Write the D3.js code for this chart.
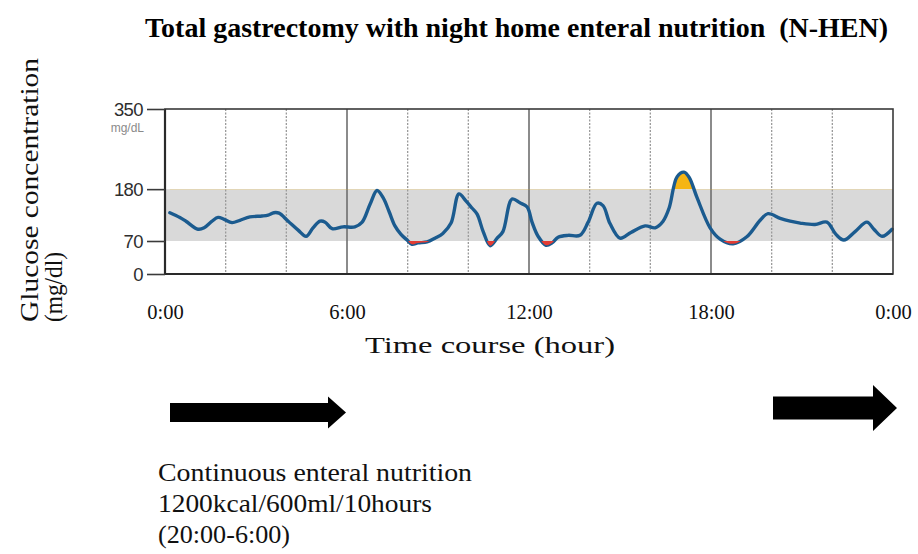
<!DOCTYPE html>
<html>
<head>
<meta charset="utf-8">
<script src="https://cdn.jsdelivr.net/npm/d3@7"></script>
<style>
  html, body { margin: 0; padding: 0; background: #fff; }
  svg { display: block; }
</style>
</head>
<body>
<svg id="chart" width="918" height="554"></svg>
<script>
// ---- data ----
const hours = [0.16,0.49,0.69,1.09,1.29,1.55,1.75,1.95,2.21,2.47,2.80,3.20,3.40,3.59,3.76,4.06,4.39,4.65,4.88,5.11,5.28,5.51,5.87,6.26,6.50,6.76,6.99,7.19,7.39,7.58,7.78,7.98,8.14,8.34,8.64,8.90,9.16,9.43,9.69,9.92,10.12,10.29,10.49,10.72,10.95,11.14,11.44,11.70,11.94,12.10,12.30,12.56,12.76,12.96,13.29,13.68,13.95,14.24,14.44,14.67,15.00,15.36,15.83,16.16,16.42,16.62,16.88,17.11,17.28,17.54,17.97,18.30,18.73,19.18,19.62,19.88,20.28,20.61,20.94,21.43,21.82,22.12,22.38,22.75,23.14,23.37,23.64,23.97];
const glucose = [130,120,112,95,98,112,120,116,109,114,121,123,125,130,129,112,93,80,98,112,110,96,100,100,110,148,177,162,132,102,84,72,63,66,68,76,86,108,170,155,140,127,90,60,76,90,159,151,142,110,80,61,66,78,82,82,110,150,145,107,76,88,102,98,112,140,206,216,205,162,98,74,64,79,114,128,118,112,108,105,110,84,72,90,110,95,80,95];
const yTicks = [0, 70, 180, 350];
const xTicks = [0, 6, 12, 18, 24];
const xTickLabels = ["0:00", "6:00", "12:00", "18:00", "0:00"];
const gridHours = [2, 4, 6, 8, 10, 12, 14, 16, 18, 20, 22];
const majorHours = [6, 12, 18];
const targetRange = [70, 180];
const title = "Total gastrectomy with night home enteral nutrition  (N-HEN)";
const yTitle = ["Glucose concentration", "(mg/dl)"];
const xTitle = "Time course (hour)";
const unitLabel = "mg/dL";
const noteLines = ["Continuous enteral nutrition", "1200kcal/600ml/10hours", "(20:00-6:00)"];

// ---- layout ----
const svg = d3.select("#chart");
const L = 165, R = 893, T = 109, B = 274;
const x = d3.scaleLinear().domain([0, 24]).range([L, R]);
const y = d3.scaleLinear().domain([0, 350]).range([B, T]);
const serif = "Times New Roman, Liberation Serif, Times, serif";
const sans = "Arial, Liberation Sans, Helvetica, sans-serif";
const pts = hours.map((h, i) => ({h, v: glucose[i]}));

// title
svg.append("text").attr("x", 145).attr("y", 37)
  .style("font-family", serif).attr("font-weight", "bold").attr("font-size", 27)
  .attr("textLength", 743).attr("lengthAdjust", "spacingAndGlyphs")
  .attr("xml:space", "preserve")
  .text(title);

// target band
svg.append("rect").attr("x", L).attr("width", R - L)
  .attr("y", y(targetRange[1])).attr("height", y(targetRange[0]) - y(targetRange[1]))
  .attr("fill", "#d9d9d9");

// grid lines
svg.append("g").selectAll("line").data(gridHours).join("line")
  .attr("x1", d => x(d)).attr("x2", d => x(d)).attr("y1", T).attr("y2", B)
  .attr("stroke", d => majorHours.includes(d) ? "#6e6e6e" : "#9a9a9a")
  .attr("stroke-width", d => majorHours.includes(d) ? 1.6 : 1.3)
  .attr("stroke-dasharray", d => majorHours.includes(d) ? null : "2,1.5");

// threshold fills
const curve = d3.curveCatmullRom.alpha(0.5);
const defs = svg.append("defs");
defs.append("clipPath").attr("id", "below").append("rect")
  .attr("x", L).attr("width", R - L).attr("y", y(targetRange[0])).attr("height", B - y(targetRange[0]));
defs.append("clipPath").attr("id", "above").append("rect")
  .attr("x", L).attr("width", R - L).attr("y", T).attr("height", y(targetRange[1]) - T);
svg.append("path").datum(pts)
  .attr("d", d3.area().x(d => x(d.h)).y0(y(targetRange[1])).y1(d => y(d.v)).curve(curve))
  .attr("fill", "#f5b514").attr("clip-path", "url(#above)");

// glucose line
svg.append("path").datum(pts)
  .attr("d", d3.line().x(d => x(d.h)).y(d => y(d.v)).curve(curve))
  .attr("fill", "none").attr("stroke", "#1b5b8f").attr("stroke-width", 3.4)
  .attr("stroke-linejoin", "round").attr("stroke-linecap", "round");

// low segments drawn over the line
svg.append("path").datum(pts)
  .attr("d", d3.area().x(d => x(d.h)).y0(y(targetRange[0])).y1(d => y(d.v)).curve(curve))
  .attr("fill", "#e23c34").attr("clip-path", "url(#below)");

// frame
svg.append("rect").attr("x", L).attr("y", T).attr("width", R - L).attr("height", B - T)
  .attr("fill", "none").attr("stroke", "#3a3a3a").attr("stroke-width", 1.6);
svg.append("line").attr("x1", L).attr("x2", L).attr("y1", T).attr("y2", B)
  .attr("stroke", "#2a2a2a").attr("stroke-width", 2.2);
svg.append("line").attr("x1", L).attr("x2", R).attr("y1", B).attr("y2", B)
  .attr("stroke", "#2a2a2a").attr("stroke-width", 2.2);

// y axis
const yAxis = svg.append("g").attr("transform", `translate(${L},0)`)
  .call(d3.axisLeft(y).tickValues(yTicks).tickSize(18).tickPadding(4).tickFormat(d3.format("d")));
yAxis.select(".domain").remove();
yAxis.selectAll(".tick line").attr("stroke", "#3a3a3a").attr("stroke-width", 1.6);
yAxis.selectAll(".tick text").style("font-family", sans).attr("font-size", 18.5)
  .attr("fill", "#2e2e2e").attr("dy", "0.36em").attr("letter-spacing", -0.6);
svg.append("text").attr("x", 144).attr("y", y(350) + 23).attr("text-anchor", "end")
  .style("font-family", sans).attr("font-size", 12).attr("fill", "#8a8a8a").text(unitLabel);

// x axis labels
const xAxis = svg.append("g").attr("transform", `translate(0,304)`)
  .call(d3.axisBottom(x).tickValues(xTicks).tickSize(0).tickPadding(0)
    .tickFormat((d, i) => xTickLabels[i]));
xAxis.select(".domain").remove();
xAxis.selectAll(".tick text").style("font-family", serif).attr("font-size", 20.5).attr("fill", "#111");

// axis titles
svg.append("text").attr("x", 490).attr("y", 353).attr("text-anchor", "middle")
  .style("font-family", serif).attr("font-size", 24).attr("fill", "#111")
  .attr("textLength", 250).attr("lengthAdjust", "spacingAndGlyphs").text(xTitle);
const yLens = [264, 70];
yTitle.forEach((t, i) => {
  svg.append("text").attr("transform", `translate(${38 + i * 24},322) rotate(-90)`)
    .style("font-family", serif).attr("font-size", 26).attr("fill", "#111")
    .attr("textLength", yLens[i]).attr("lengthAdjust", "spacingAndGlyphs").text(t);
});

// arrows
function arrow(x0, x1, xt, yc, bh, hh) {
  return `M${x0},${yc - bh / 2} L${x1},${yc - bh / 2} L${x1},${yc - hh / 2} L${xt},${yc} L${x1},${yc + hh / 2} L${x1},${yc + bh / 2} L${x0},${yc + bh / 2} Z`;
}
svg.append("path").attr("d", arrow(170, 328, 346, 412.5, 19, 32)).attr("fill", "#000");
svg.append("path").attr("d", arrow(773, 873, 897, 408, 23, 46)).attr("fill", "#000");

// note text
const noteLens = [314, 274, 132];
noteLines.forEach((t, i) => {
  svg.append("text").attr("x", 158).attr("y", 481 + i * 31)
    .style("font-family", serif).attr("font-size", 26).attr("fill", "#111")
    .attr("textLength", noteLens[i]).attr("lengthAdjust", "spacingAndGlyphs").text(t);
});
</script>
</body>
</html>
